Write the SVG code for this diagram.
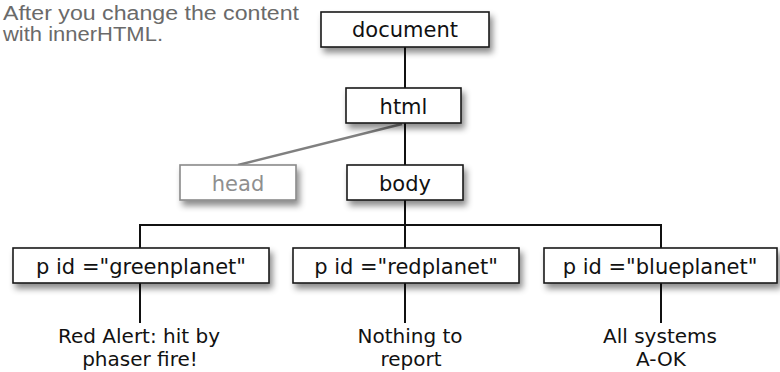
<svg xmlns="http://www.w3.org/2000/svg" width="780" height="372" viewBox="0 0 780 372">
<style>
.box{fill:#fff;stroke:#1a1a1a;stroke-width:1.6;filter:url(#sh)}
.gbox{fill:#fff;stroke:#8a8a8a;stroke-width:1.6;filter:url(#sh)}
.t{font-family:"DejaVu Sans",sans-serif;font-size:21px;fill:#111;text-anchor:middle}
.gt{font-family:"DejaVu Sans",sans-serif;font-size:21px;fill:#8f8f8f;text-anchor:middle}
.lbl{font-family:"DejaVu Sans",sans-serif;font-size:20px;fill:#111;text-anchor:middle}
.hand{font-family:"Liberation Sans",sans-serif;font-size:20px;fill:#6a6a6a}
.ln{stroke:#111;stroke-width:2;fill:none}
.gln{stroke:#808080;stroke-width:2.5;fill:none}
</style>
<defs>
<filter id="sh" x="-20%" y="-40%" width="140%" height="190%">
<feDropShadow dx="3" dy="5" stdDeviation="3" flood-color="#000" flood-opacity="0.45"/>
</filter>
</defs>
<g id="note">
<text class="hand" x="3" y="20" textLength="296" lengthAdjust="spacingAndGlyphs">After you change the content</text>
<text class="hand" x="3" y="41" textLength="160" lengthAdjust="spacingAndGlyphs">with innerHTML.</text>
</g>
<g id="connectors">
<line class="ln" x1="405" y1="47" x2="405" y2="88"/>
<line class="ln" x1="405" y1="123" x2="405" y2="165"/>
<line class="gln" x1="238" y1="165" x2="402" y2="124"/>
<line class="ln" x1="405" y1="200" x2="405" y2="225"/>
<polyline class="ln" points="140,248 140,225 661,225 661,248"/>
<line class="ln" x1="405" y1="225" x2="405" y2="248"/>
<line class="ln" x1="140" y1="283" x2="140" y2="323"/>
<line class="ln" x1="405" y1="283" x2="405" y2="323"/>
<line class="ln" x1="661" y1="283" x2="661" y2="323"/>
</g>
<g id="document"><rect class="box" x="321" y="12" width="168" height="35"/><text class="t" x="405" y="37">document</text></g>
<g id="html"><rect class="box" x="346" y="88" width="115" height="35"/><text class="t" x="403.5" y="114">html</text></g>
<g id="head"><rect class="gbox" x="180" y="165" width="116" height="35"/><text class="gt" x="238" y="191">head</text></g>
<g id="body"><rect class="box" x="347" y="165" width="116" height="35"/><text class="t" x="405" y="191">body</text></g>
<g id="greenplanet"><rect class="box" x="13" y="248" width="256" height="35"/><text class="t" x="141" y="274">p id ="greenplanet"</text></g>
<g id="redplanet"><rect class="box" x="293" y="248" width="226" height="35"/><text class="t" x="406" y="274">p id ="redplanet"</text></g>
<g id="blueplanet"><rect class="box" x="544" y="248" width="233" height="35"/><text class="t" x="660" y="274">p id ="blueplanet"</text></g>
<g id="labels">
<text class="lbl" x="139" y="343">Red Alert: hit by</text>
<text class="lbl" x="140" y="366">phaser fire!</text>
<text class="lbl" x="410" y="343">Nothing to</text>
<text class="lbl" x="411" y="366">report</text>
<text class="lbl" x="660" y="343">All systems</text>
<text class="lbl" x="661" y="366">A-OK</text>
</g>
</svg>
